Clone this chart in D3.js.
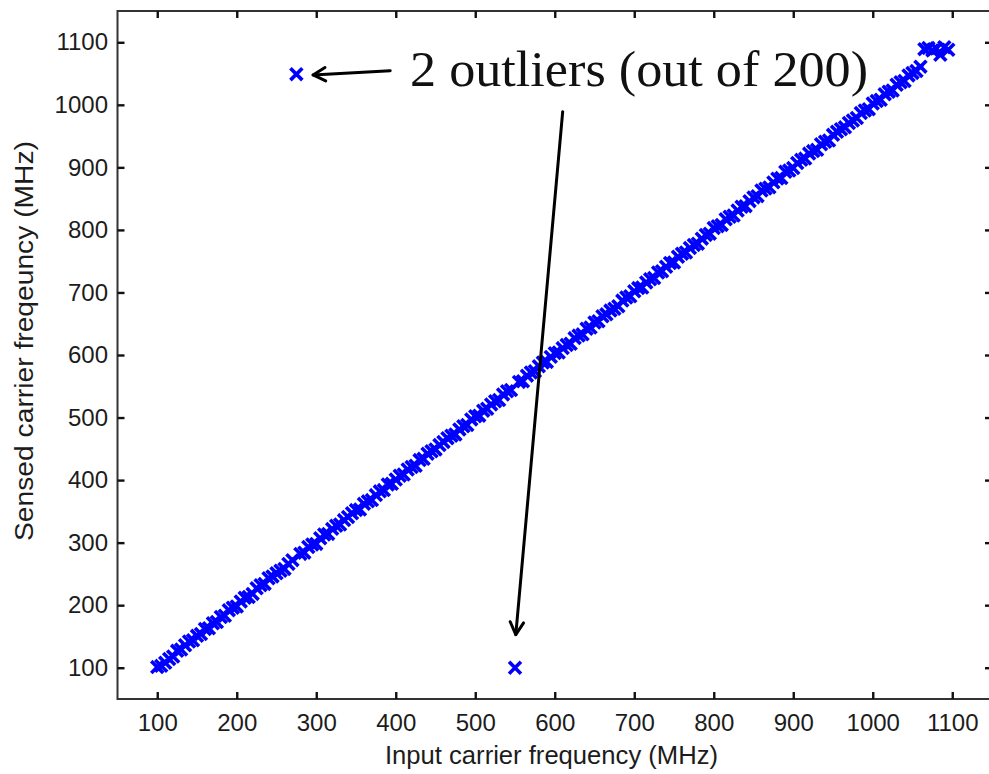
<!DOCTYPE html>
<html>
<head>
<meta charset="utf-8">
<script src="https://cdn.jsdelivr.net/npm/d3@7"></script>
<style>
  html, body { margin: 0; padding: 0; background: #fff; }
  svg { display: block; }
</style>
</head>
<body>
<svg id="chart" width="989" height="774"></svg>
<script>
// Input carrier frequency (MHz) of each of the 200 trials
const inputFreq = [
  100,105,110,115,120,125,130,135,140,145,
  150,155,160,165,170,175,180,185,190,195,
  200,205,210,215,220,225,230,235,240,245,
  250,255,260,265,270,275,280,285,290,295,
  300,305,310,315,320,325,330,335,340,345,
  350,355,360,365,370,375,380,385,390,395,
  400,405,410,415,420,425,430,435,440,445,
  450,455,460,465,470,475,480,485,490,495,
  500,505,510,515,520,525,530,535,540,545,
  550,555,560,565,570,575,580,585,590,595,
  600,605,610,615,620,625,630,635,640,645,
  650,655,660,665,670,675,680,685,690,695,
  700,705,710,715,720,725,730,735,740,745,
  750,755,760,765,770,775,780,785,790,795,
  800,805,810,815,820,825,830,835,840,845,
  850,855,860,865,870,875,880,885,890,895,
  900,905,910,915,920,925,930,935,940,945,
  950,955,960,965,970,975,980,985,990,995,
  1000,1005,1010,1015,1020,1025,1030,1035,1040,1045,
  1050,1055,1060,1065,1070,1075,1080,1085,1090,1095
];

// Carrier frequency (MHz) reported by the sensing stage for each trial
const sensedFreq = [
  101,103,108,114,118,127,129,136,142,144,
  151,154,162,163,171,173,181,183,192,196,
  198,206,212,213,218,227,232,234,243,246,
  251,255,258,266,272,1049,282,284,293,297,
  298,307,313,314,322,327,329,336,341,347,
  352,353,362,366,368,376,382,384,393,394,
  401,407,409,417,421,423,432,434,442,446,
  449,456,461,467,471,473,481,486,488,497,
  502,503,511,514,521,526,528,537,542,544,
  100,557,558,567,572,574,582,588,589,597,
  603,604,611,616,618,627,631,633,642,644,
  652,654,662,665,671,674,678,687,692,694,
  702,707,708,716,721,723,732,734,741,747,
  748,757,762,764,771,776,778,786,792,794,
  803,806,808,817,821,823,831,837,838,846,
  852,854,863,866,868,876,882,883,893,895,
  899,907,912,914,922,926,928,937,941,943,
  952,957,961,964,971,975,979,987,991,993,
  1002,1006,1008,1017,1021,1023,1032,1036,1038,1047,
  1051,1054,1061,1089,1091,1087,1090,1080,1092,1088
];

const tickValues = [100,200,300,400,500,600,700,800,900,1000,1100];
const annotationText = "2 outliers (out of 200)";
// Arrow tail / head pairs in data units, pointing at the two outliers
const arrowTails = [[393, 1054.6], [610, 989]];
const arrowHeads = [[296, 1047.8], [551, 153]];

const svg = d3.select("#chart");
const plotLeft = 117.5, plotRight = 992, plotTop = 11, plotBottom = 699;

const x = d3.scaleLinear().domain([50, 1150]).range([plotLeft, plotRight]);
const y = d3.scaleLinear().domain([50, 1150]).range([plotBottom, plotTop]);

const tickFont = "Liberation Sans, Arial, sans-serif";
const fmt = d3.format("d");

// Plot frame
svg.append("rect")
  .attr("x", plotLeft).attr("y", plotTop)
  .attr("width", plotRight - plotLeft).attr("height", plotBottom - plotTop)
  .attr("fill", "none").attr("stroke", "#333").attr("stroke-width", 2);

function styleAxis(g) {
  g.select(".domain").remove();
  g.selectAll(".tick line").attr("stroke", "#111").attr("stroke-width", 2.4);
  g.selectAll(".tick text")
    .attr("fill", "#1c1c1c")
    .style("font-family", tickFont)
    .style("font-size", "24px");
}

svg.append("g").attr("transform", `translate(0,${plotBottom})`)
  .call(d3.axisBottom(x).tickValues(tickValues).tickFormat(fmt).tickSizeInner(-7).tickSizeOuter(0).tickPadding(15))
  .call(styleAxis);
svg.append("g").attr("transform", `translate(0,${plotTop})`)
  .call(d3.axisTop(x).tickValues(tickValues).tickSizeInner(-7).tickSizeOuter(0).tickFormat(""))
  .call(styleAxis);
svg.append("g").attr("transform", `translate(${plotLeft},0)`)
  .call(d3.axisLeft(y).tickValues(tickValues).tickFormat(fmt).tickSizeInner(-7).tickSizeOuter(0).tickPadding(9.5))
  .call(styleAxis);
svg.append("g").attr("transform", `translate(${plotRight},0)`)
  .call(d3.axisRight(y).tickValues(tickValues).tickSizeInner(-7).tickSizeOuter(0).tickFormat(""))
  .call(styleAxis);

// Axis titles
svg.append("text")
  .attr("x", 551.5).attr("y", 764)
  .attr("text-anchor", "middle")
  .attr("textLength", 333).attr("lengthAdjust", "spacingAndGlyphs")
  .attr("fill", "#1c1c1c")
  .style("font-family", tickFont).style("font-size", "25px")
  .text("Input carrier frequency (MHz)");

svg.append("text")
  .attr("transform", "translate(33,341) rotate(-90)")
  .attr("text-anchor", "middle")
  .attr("textLength", 400).attr("lengthAdjust", "spacingAndGlyphs")
  .attr("fill", "#1c1c1c")
  .style("font-family", tickFont).style("font-size", "25px")
  .text("Sensed carrier freqeuncy (MHz)");

// Scatter of sensed vs input frequency, bold 'x' markers
const points = inputFreq.map((f, i) => ({ f, s: sensedFreq[i] }));
const m = 4.7;
svg.append("g")
  .selectAll("path")
  .data(points)
  .join("path")
  .attr("transform", d => `translate(${x(d.f)},${y(d.s)})`)
  .attr("d", `M${-m},${-m}L${m},${m}M${-m},${m}L${m},${-m}`)
  .attr("stroke", "#0000ff")
  .attr("stroke-width", 3.6)
  .attr("stroke-linecap", "square")
  .attr("fill", "none");

// Annotation text and arrows
svg.append("text")
  .attr("x", x(418)).attr("y", y(1030))
  .attr("textLength", 458).attr("lengthAdjust", "spacingAndGlyphs")
  .attr("fill", "#111")
  .style("font-family", "Liberation Serif, 'Times New Roman', serif")
  .style("font-size", "50px")
  .text(annotationText);

const arrows = svg.append("g")
  .attr("stroke", "#000").attr("stroke-width", 3)
  .attr("fill", "none").attr("stroke-linecap", "round").attr("stroke-linejoin", "round");

arrowTails.forEach((t, i) => {
  const h = arrowHeads[i];
  const x0 = x(t[0]), y0 = y(t[1]), x1 = x(h[0]), y1 = y(h[1]);
  const ang = Math.atan2(y1 - y0, x1 - x0);
  const len = 14, spread = 0.5;
  arrows.append("line")
    .attr("x1", x0).attr("y1", y0).attr("x2", x1).attr("y2", y1);
  const ax = x1 - len * Math.cos(ang - spread), ay = y1 - len * Math.sin(ang - spread);
  const bx = x1 - len * Math.cos(ang + spread), by = y1 - len * Math.sin(ang + spread);
  arrows.append("path").attr("d", `M${ax},${ay}L${x1},${y1}L${bx},${by}`);
});
</script>
</body>
</html>
